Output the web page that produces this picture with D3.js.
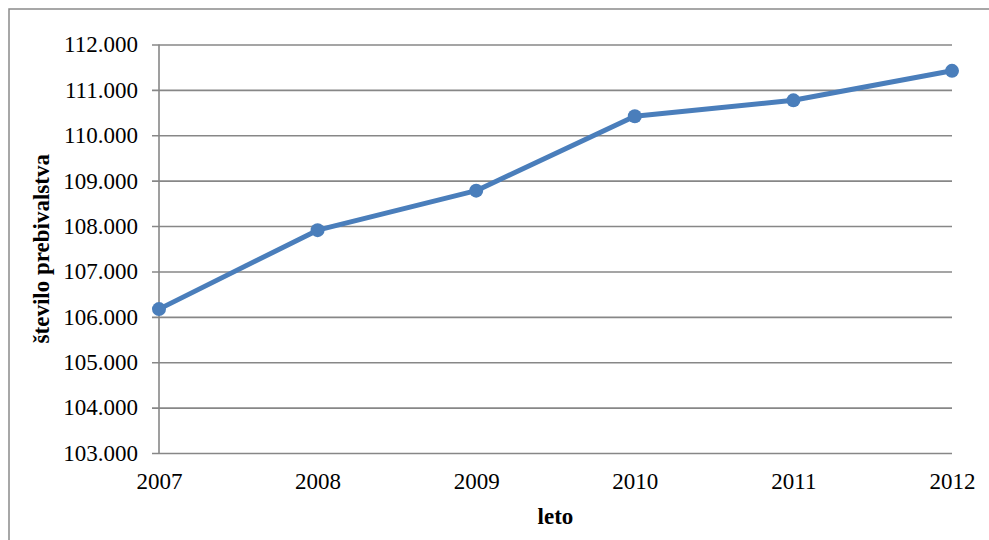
<!DOCTYPE html>
<html>
<head>
<meta charset="utf-8">
<script src="https://cdn.jsdelivr.net/npm/d3@7"></script>
<style>
  html, body { margin: 0; padding: 0; background: #fff; }
  svg { display: block; }
</style>
</head>
<body>
<svg id="chart" width="989" height="540"></svg>
<script>
// Population by year
const years = ["2007", "2008", "2009", "2010", "2011", "2012"];
const population = [106170, 107910, 108780, 110420, 110770, 111420];
const yTicks = [103000, 104000, 105000, 106000, 107000, 108000, 109000, 110000, 111000, 112000];
const xTitle = "leto";
const yTitle = "število prebivalstva";

const svg = d3.select("#chart");
const W = 989, H = 540;
const plotLeft = 159, plotRight = 952, plotTop = 44.5, plotBottom = 453;
const gridColor = "#878787";
const lineColor = "#4a7ebb";
const serif = "'Times New Roman', 'Liberation Serif', serif";

// Slovenian number style: dot as thousands separator
const sl = d3.formatLocale({ decimal: ",", thousands: ".", grouping: [3], currency: ["", " €"] });
const fmt = sl.format(",.0f");

// Chart frame
svg.append("rect")
  .attr("x", 9).attr("y", 9)
  .attr("width", W + 10).attr("height", H + 10)
  .attr("fill", "none")
  .attr("stroke", "#8a8a8a")
  .attr("stroke-width", 1.5);

const x = d3.scalePoint().domain(years).range([plotLeft, plotRight]);
const y = d3.scaleLinear().domain([103000, 112000]).range([plotBottom, plotTop]);

// Horizontal gridlines with left tick marks and labels
const yAxis = d3.axisLeft(y)
  .tickValues(yTicks)
  .tickFormat(fmt)
  .tickSize(-(plotRight - plotLeft))
  .tickPadding(14);

const gy = svg.append("g")
  .attr("transform", `translate(${plotLeft},0)`)
  .call(yAxis);
gy.select(".domain").remove();
gy.selectAll(".tick line")
  .attr("x1", -7)
  .attr("x2", plotRight - plotLeft)
  .attr("stroke", gridColor)
  .attr("stroke-width", 1.6);
gy.selectAll(".tick text")
  .attr("x", -21)
  .attr("fill", "#000")
  .style("font-family", serif)
  .style("font-size", "23px");

// Vertical axis line
svg.append("line")
  .attr("x1", plotLeft).attr("x2", plotLeft)
  .attr("y1", y(112000)).attr("y2", y(103000))
  .attr("stroke", gridColor)
  .attr("stroke-width", 1.6);

// Category axis labels
const xAxis = d3.axisBottom(x).tickSize(0).tickPadding(20);
const gx = svg.append("g")
  .attr("transform", `translate(0,${plotBottom})`)
  .call(xAxis);
gx.select(".domain").remove();
gx.selectAll(".tick text")
  .attr("fill", "#000")
  .style("font-family", serif)
  .style("font-size", "23px");

// Axis titles
svg.append("text")
  .attr("x", (plotLeft + plotRight) / 2)
  .attr("y", 524)
  .attr("text-anchor", "middle")
  .style("font-family", serif)
  .style("font-size", "23px")
  .style("font-weight", "bold")
  .text(xTitle);

svg.append("text")
  .attr("transform", `translate(49,${(plotTop + plotBottom) / 2}) rotate(-90)`)
  .attr("text-anchor", "middle")
  .style("font-family", serif)
  .style("font-size", "23px")
  .style("font-weight", "bold")
  .text(yTitle);

// Series line and markers
const data = years.map((yr, i) => ({ yr, v: population[i] }));
svg.append("path")
  .datum(data)
  .attr("fill", "none")
  .attr("stroke", lineColor)
  .attr("stroke-width", 5)
  .attr("stroke-linejoin", "round")
  .attr("d", d3.line().x(d => x(d.yr)).y(d => y(d.v)));

svg.selectAll("circle.pt")
  .data(data)
  .join("circle")
  .attr("class", "pt")
  .attr("cx", d => x(d.yr))
  .attr("cy", d => y(d.v))
  .attr("r", 7)
  .attr("fill", lineColor);
</script>
</body>
</html>
